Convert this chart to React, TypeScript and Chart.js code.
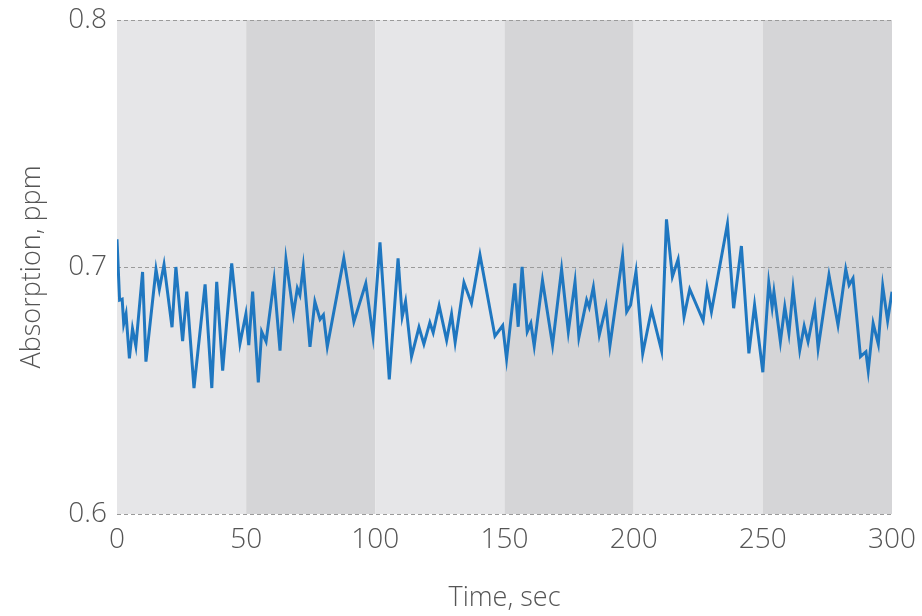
import React, { useEffect, useRef } from "react";
import { Chart, registerables } from "chart.js";

Chart.register(...registerables);

const times = [
  0, 1, 2, 2.6, 3.5, 4.8, 6, 7.3, 9.9, 11.2, 15.1, 16.4, 18.2, 21.3, 22.8, 25.4, 27, 29.8, 34.1, 36.7,
  38.6, 40.9, 44.4, 47.6, 49.9, 51, 52.5, 54.7, 56, 57.7, 60.8, 63.1, 65.4, 68.3, 69.8, 70.8, 72.1, 74.7,
  76.6, 78.6, 79.9, 81.4, 87.8, 91.7, 96.3, 99.1, 101.8, 105.4, 108.8, 110.4, 111.7, 114, 116.9, 118.8,
  121.1, 122.4, 124.7, 127.6, 129.5, 130.9, 134.3, 137.2, 140.5, 146.3, 149.3, 150.8, 154, 155.3, 156.8,
  158.8, 160.2, 161.5, 164.7, 168.6, 172.1, 174.7, 177.3, 178.8, 181.8, 182.8, 184.4, 186.7, 189.3, 190.8,
  195.7, 197.3, 198.8, 200.9, 203.5, 206.9, 210.8, 212.7, 215, 217.2, 219.5, 221.7, 226.9, 228.4, 230.1,
  236.3, 238.7, 241.7, 244.6, 246.8, 250, 252.3, 253.6, 254.3, 256.8, 258.5, 260.1, 261.7, 264.3, 266,
  267.5, 270.1, 271.4, 275.6, 279.1, 282.1, 283.4, 284.9, 287.8, 289.9, 290.8, 292.7, 294.7, 296.4, 298.3, 300,
];

const absorption = [
  0.7112, 0.6866, 0.687, 0.677, 0.681, 0.663, 0.675, 0.668, 0.698, 0.6617, 0.699, 0.691, 0.701, 0.6756, 0.7,
  0.67, 0.69, 0.651, 0.693, 0.651, 0.694, 0.658, 0.7015, 0.669, 0.681, 0.6684, 0.69, 0.6533, 0.6738, 0.6698,
  0.6947, 0.6661, 0.7031, 0.681, 0.6914, 0.6887, 0.7001, 0.6677, 0.686, 0.6788, 0.6806, 0.6677, 0.7035,
  0.6779, 0.6934, 0.672, 0.71, 0.6545, 0.7035, 0.6799, 0.686, 0.6637, 0.6756, 0.6688, 0.6775, 0.6734, 0.6843,
  0.6704, 0.6809, 0.6695, 0.6937, 0.6853, 0.7049, 0.672, 0.6763, 0.6628, 0.6934, 0.6758, 0.7001, 0.6738,
  0.6772, 0.668, 0.6945, 0.6684, 0.6991, 0.6738, 0.694, 0.6715, 0.6866, 0.6837, 0.6918, 0.6725, 0.6839,
  0.6681, 0.7045, 0.6819, 0.6846, 0.6981, 0.665, 0.6826, 0.6661, 0.7193, 0.6961, 0.7031, 0.6799, 0.691,
  0.6783, 0.6914, 0.6819, 0.7174, 0.6833, 0.7085, 0.665, 0.6846, 0.6574, 0.6937, 0.6837, 0.69, 0.6698,
  0.6839, 0.6731, 0.691, 0.6664, 0.6761, 0.6698, 0.6837, 0.6671, 0.6968, 0.6765, 0.6991, 0.6927, 0.6954,
  0.6637, 0.6657, 0.658, 0.6772, 0.6688, 0.6923, 0.6783, 0.69,
];

const bandEdges = [0, 50, 100, 150, 200, 250, 300];
const bandColors = ["#e6e6e8", "#d5d5d7"];
const yTicks = [0.6, 0.7, 0.8];

const bandsPlugin = {
  id: "bands",
  beforeDraw(chart: any) {
    const { ctx, chartArea, scales } = chart;
    const xs = scales.x;
    ctx.save();
    for (let i = 0; i < bandEdges.length - 1; i++) {
      const x0 = xs.getPixelForValue(bandEdges[i]);
      const x1 = xs.getPixelForValue(bandEdges[i + 1]);
      ctx.fillStyle = bandColors[i % 2];
      ctx.fillRect(x0, chartArea.top, x1 - x0, chartArea.bottom - chartArea.top);
    }
    ctx.restore();
  },
};

export default function App() {
  const ref = useRef<HTMLCanvasElement>(null);
  useEffect(() => {
    if (!ref.current) return;
    Chart.defaults.font.family = "'Open Sans', 'DejaVu Sans', sans-serif";
    const chart = new Chart(ref.current, {
      type: "line",
      data: {
        datasets: [
          {
            data: times.map((t, i) => ({ x: t, y: absorption[i] })),
            borderColor: "#1f77c0",
            borderWidth: 3,
            pointRadius: 0,
            tension: 0,
            fill: false,
          },
        ],
      },
      plugins: [bandsPlugin],
      options: {
        animation: false,
        responsive: true,
        maintainAspectRatio: false,
        layout: { padding: { top: 20, right: 30, left: 0, bottom: 0 } },
        plugins: { legend: { display: false }, tooltip: { enabled: false } },
        scales: {
          x: {
            type: "linear",
            min: 0,
            max: 300,
            afterFit(scale: any) {
              scale.height = 102;
              scale.paddingLeft = 0;
              scale.paddingRight = 0;
            },
            ticks: {
              stepSize: 50,
              padding: 4,
              color: "#555",
              font: { size: 28, weight: "300" as any, lineHeight: 1 },
              maxRotation: 0,
            },
            grid: { display: false },
            border: { display: false },
            title: {
              display: true,
              text: "Time, sec",
              color: "#555",
              font: { size: 27, weight: "300" as any },
              padding: { top: 0, bottom: 1 },
            },
          },
          y: {
            min: 0.6,
            max: 0.8,
            afterFit(scale: any) {
              scale.width = 117;
              scale.paddingTop = 0;
              scale.paddingBottom = 0;
            },
            afterBuildTicks(scale: any) {
              scale.ticks = yTicks.map((v) => ({ value: v }));
            },
            ticks: {
              padding: 10,
              color: "#555",
              font: { size: 28, weight: "300" as any, lineHeight: 1 },
              callback: (v: any) => Number(v).toFixed(1),
            },
            grid: {
              color: "#9a9a9a",
              lineWidth: 1,
              drawTicks: false,
            },
            border: { display: false, dash: [4, 3] },
            title: {
              display: true,
              text: "Absorption, ppm",
              color: "#555",
              font: { size: 27, weight: "300" as any },
              padding: { top: 16, bottom: 0 },
            },
          },
        },
      },
    });
    return () => chart.destroy();
  }, []);
  return (
    <div style={{ position: "fixed", left: 0, top: 0, width: 922, height: 616, background: "#fff" }}>
      <canvas ref={ref} />
    </div>
  );
}
